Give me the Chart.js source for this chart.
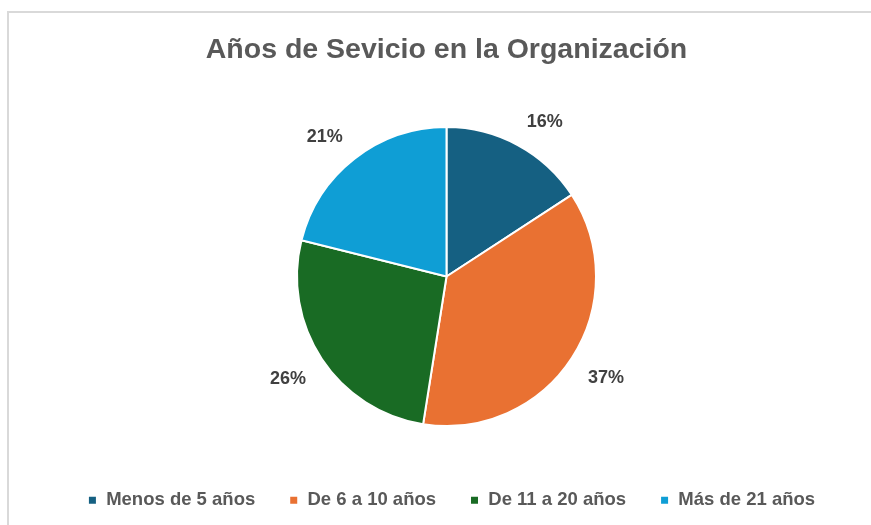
<!DOCTYPE html>
<html>
<head>
<meta charset="utf-8">
<script src="https://cdn.jsdelivr.net/npm/chart.js@4.4.1/dist/chart.umd.min.js"></script>
<style>
  html, body { margin: 0; padding: 0; background: #ffffff; }
  #wrap { position: relative; width: 871px; height: 525px; }
  #frame { position: absolute; left: 7px; top: 11px; right: 0; bottom: 0;
           border-top: 2px solid #d9d9d9; border-left: 2px solid #d9d9d9; pointer-events: none; }
  canvas { display: block; }
</style>
</head>
<body>
<div id="wrap">
  <canvas id="c" width="871" height="525"></canvas>
  <div id="frame"></div>
</div>
<script>
const titleText = "Años de Sevicio en la Organización";
const categories = ["Menos de 5 años", "De 6 a 10 años", "De 11 a 20 años", "Más de 21 años"];
const values = [15.8, 36.7, 26.4, 21.1];
const colors = ["#156082", "#E97132", "#196B24", "#0F9ED5"];

const FONT = "'Liberation Sans', Arial, sans-serif";

const outsideLabels = {
  id: 'outsideLabels',
  afterDatasetsDraw(chart) {
    const ctx = chart.ctx;
    const meta = chart.getDatasetMeta(0);
    const data = chart.data.datasets[0].data;
    const total = data.reduce((a, b) => a + b, 0);
    ctx.save();
    ctx.font = "bold 18px " + FONT;
    ctx.fillStyle = "#404040";
    ctx.textAlign = "center";
    ctx.textBaseline = "middle";
    meta.data.forEach((arc, i) => {
      const p = arc.getProps(['x', 'y', 'startAngle', 'endAngle', 'outerRadius'], true);
      const mid = (p.startAngle + p.endAngle) / 2;
      const txt = Math.round(data[i] / total * 100) + "%";
      const w = ctx.measureText(txt).width;
      const h = 16;
      const d = p.outerRadius + 19;
      const ax = p.x + Math.cos(mid) * d;
      const ay = p.y + Math.sin(mid) * d;
      const cx = ax + Math.sign(Math.cos(mid)) * w / 2;
      const cy = ay + Math.sign(Math.sin(mid)) * h / 2;
      ctx.fillText(txt, cx, cy + 1.5);
    });
    ctx.restore();
  }
};

const legendShift = {
  id: 'legendShift',
  afterLayout(chart) {
    if (chart.legend) {
      chart.legend.left += 5;
      chart.legend.right += 5;
    }
  }
};

new Chart(document.getElementById('c'), {
  type: 'pie',
  data: {
    labels: categories,
    datasets: [{
      data: values,
      backgroundColor: colors,
      borderColor: '#ffffff',
      borderWidth: 2
    }]
  },
  options: {
    responsive: false,
    animation: false,
    layout: { padding: { left: 22, right: 0, top: 10, bottom: 5.5 } },
    plugins: {
      tooltip: { enabled: false },
      title: {
        display: true,
        text: titleText,
        color: '#595959',
        font: { family: FONT, size: 28.5, weight: 'bold', lineHeight: 1.2 },
        padding: { top: 23.4, bottom: 58.4 }
      },
      legend: {
        position: 'bottom',
        title: {
          display: true,
          text: ' ',
          font: { size: 10, lineHeight: 1.2 },
          padding: { top: 18, bottom: 0 }
        },
        labels: {
          color: '#595959',
          font: { family: FONT, size: 18.5, weight: 'bold' },
          boxWidth: 9,
          boxHeight: 9,
          padding: 34
        }
      }
    }
  },
  plugins: [outsideLabels, legendShift]
});
</script>
</body>
</html>
